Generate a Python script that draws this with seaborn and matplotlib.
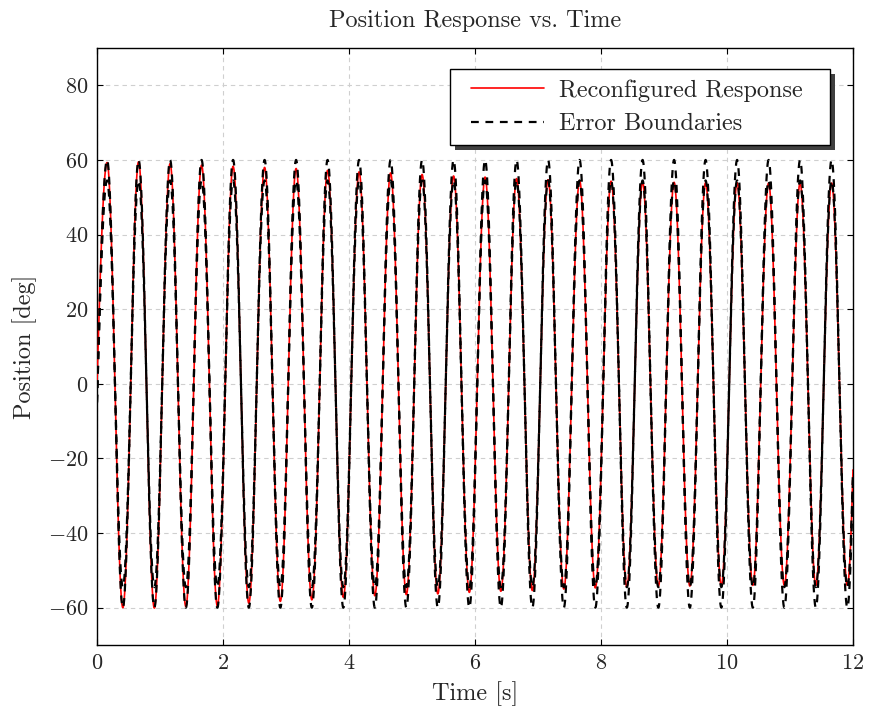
import numpy as np
import pandas as pd
import matplotlib
matplotlib.use("Agg")
import matplotlib.pyplot as plt
import matplotlib.patches as mpatches
from matplotlib.transforms import IdentityTransform
import seaborn as sns

# ---- data ----
peak_times = [0.16 + 0.5 * k for k in range(24)]
trough_times = [0.41 + 0.5 * k for k in range(24)]
response_peaks = [59.3, 59.5, 59.0, 58.6, 58.3, 58.0, 57.7, 57.2, 56.8, 56.5, 56.1, 55.7,
                  55.4, 55.0, 54.7, 54.5, 54.3, 54.1, 54.0, 53.9, 53.9, 53.8, 53.8, 53.8]
response_troughs = [-60.0, -60.1, -59.7, -59.5, -58.8, -58.3, -57.9, -57.2, -56.8, -56.5, -56.3, -55.9,
                    -55.6, -55.4, -55.0, -54.7, -54.5, -54.3, -54.2, -54.1, -54.0, -54.0, -54.0, -54.0]
response_start = 0.0
outer_bound_amp = 60.0
inner_bound_amp = 54.5
bound_start = -5.0
x_ticks = [0, 2, 4, 6, 8, 10, 12]
y_ticks = [-60, -40, -20, 0, 20, 40, 60, 80]


def extrema_curve(start_val, peaks, troughs, n=12000):
    ts = [0.0]
    vs = [start_val]
    for tp, vp, tt, vt in zip(peak_times, peaks, trough_times, troughs):
        ts += [tp, tt]
        vs += [vp, vt]
    ts.append(peak_times[-1] + 0.5)
    vs.append(peaks[-1])
    ts = np.array(ts)
    vs = np.array(vs)
    t = np.linspace(0, 12, n)
    idx = np.clip(np.searchsorted(ts, t, side="right") - 1, 0, len(ts) - 2)
    t0, t1 = ts[idx], ts[idx + 1]
    v0, v1 = vs[idx], vs[idx + 1]
    frac = (t - t0) / (t1 - t0)
    shape = np.where(idx == 0, np.sin(np.pi / 2 * frac), (1 - np.cos(np.pi * frac)) / 2)
    return t, v0 + (v1 - v0) * shape


t_r, y_r = extrema_curve(response_start, response_peaks, response_troughs)
t_o, y_o = extrema_curve(bound_start, [outer_bound_amp] * 24, [-outer_bound_amp] * 24)
t_i, y_i = extrema_curve(bound_start, [inner_bound_amp] * 24, [-inner_bound_amp] * 24)

df_r = pd.DataFrame({"t": t_r, "y": y_r})
df_o = pd.DataFrame({"t": t_o, "y": y_o})
df_i = pd.DataFrame({"t": t_i, "y": y_i})

sns.set_style("ticks")
plt.rcParams["font.family"] = ["cmr10", "DejaVu Serif"]
plt.rcParams["mathtext.fontset"] = "cm"
plt.rcParams["axes.formatter.use_mathtext"] = True
plt.rcParams["axes.unicode_minus"] = True

FS = 17.5
DASH = (0, (3.5, 3))

fig = plt.figure(figsize=(8.69, 7.15), dpi=100)
ax = fig.add_axes([97 / 869, 1 - 645 / 715, (853 - 97) / 869, (645 - 48) / 715])

sns.lineplot(data=df_r, x="t", y="y", ax=ax, color="red", lw=1.2, sort=False,
             estimator=None, label="Reconfigured Response", zorder=3)
sns.lineplot(data=df_o, x="t", y="y", ax=ax, color="black", lw=1.6, sort=False,
             estimator=None, label="Error Boundaries", zorder=4)
sns.lineplot(data=df_i, x="t", y="y", ax=ax, color="black", lw=1.6, sort=False,
             estimator=None, label="_nolegend_", zorder=4)
for ln in ax.lines[1:]:
    ln.set_linestyle(DASH)

ax.set_xlim(0, 12)
ax.set_ylim(-70, 90)
ax.set_xticks(x_ticks)
ax.set_yticks(y_ticks)
ax.grid(True, color="#cfcfcf", linestyle=(0, (4, 3.5)), lw=0.8)
ax.set_axisbelow(True)
for s in ax.spines.values():
    s.set_color("black")
    s.set_linewidth(1.0)
ax.tick_params(direction="in", top=True, right=True, length=4, labelsize=16,
               color="black", pad=6)

ax.set_xlabel("Time [s]", fontsize=FS, labelpad=6)
ax.set_ylabel("Position [deg]", fontsize=FS, labelpad=8)
ax.set_title("Position Response vs. Time", fontsize=FS, pad=15)

leg = ax.legend(loc="upper right", bbox_to_anchor=(0.934, 0.948), borderaxespad=0,
                fontsize=FS, frameon=False, handlelength=3.0, handletextpad=0.65,
                borderpad=0, labelspacing=0.47)
leg.set_zorder(6)
leg.get_lines()[1].set_linestyle(DASH)

fig.canvas.draw()
bb = leg.get_window_extent(fig.canvas.get_renderer())
pad_l, pad_r, pad_t, pad_b = 21, 27, 10, 10
fx0, fy0 = bb.x0 - pad_l, bb.y0 - pad_b
fw, fh = bb.width + pad_l + pad_r, bb.height + pad_t + pad_b
shadow = mpatches.Rectangle((fx0 + 5, fy0 - 5), fw, fh, transform=IdentityTransform(),
                            facecolor="#404040", edgecolor="none", zorder=5.8, clip_on=False)
frame = mpatches.Rectangle((fx0, fy0), fw, fh, transform=IdentityTransform(),
                           facecolor="white", edgecolor="black", lw=1.0, zorder=5.9,
                           clip_on=False)
ax.add_artist(shadow)
ax.add_artist(frame)

fig.savefig("out.png", dpi=100)
